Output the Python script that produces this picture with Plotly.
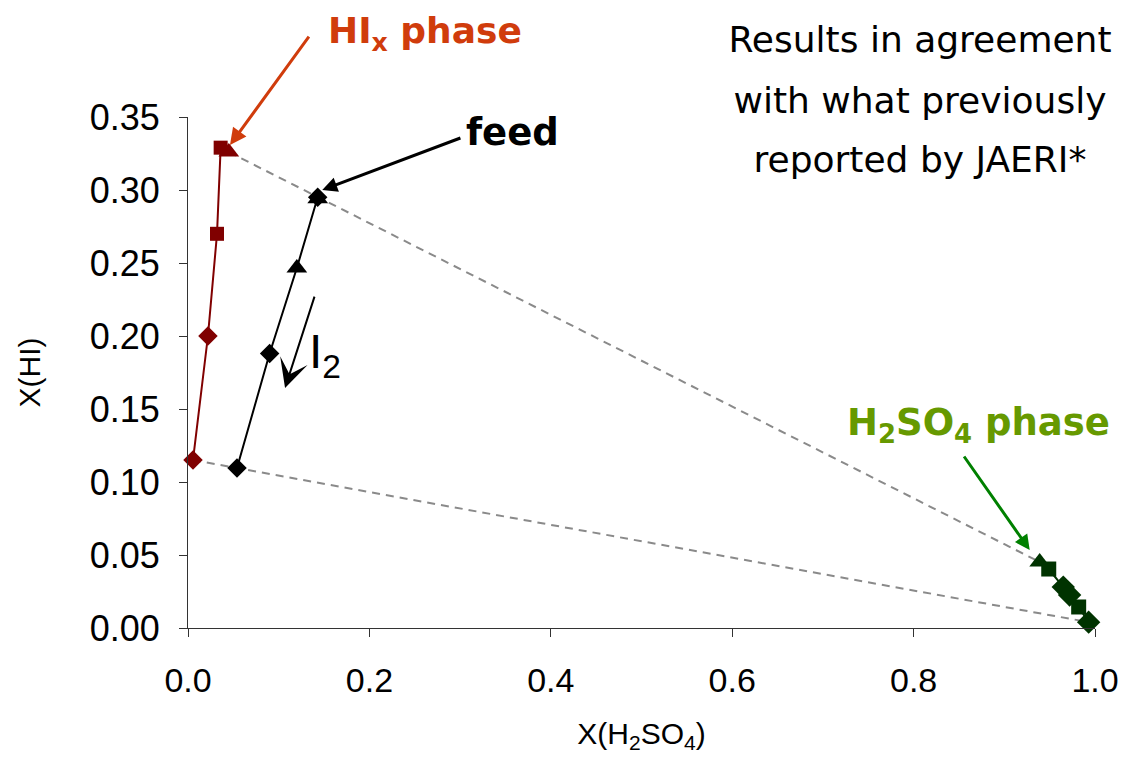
import plotly.graph_objects as go

# ---------------- data ----------------
HIX_DIAMOND_X = [0.0055, 0.022]
HIX_DIAMOND_Y = [0.115, 0.200]
HIX_SQUARE_X = [0.032, 0.036]
HIX_SQUARE_Y = [0.270, 0.329]
HIX_TRIANGLE_X = [0.045]
HIX_TRIANGLE_Y = [0.326]

FEED_DIAMOND_X = [0.054, 0.090, 0.143]
FEED_DIAMOND_Y = [0.1096, 0.188, 0.295]
FEED_TRIANGLE_X = [0.120, 0.143]
FEED_TRIANGLE_Y = [0.2466, 0.294]

H2SO4_DIAMOND_X = [0.965, 0.972, 0.993]
H2SO4_DIAMOND_Y = [0.028, 0.0226, 0.004]
H2SO4_SQUARE_X = [0.949, 0.982]
H2SO4_SQUARE_Y = [0.0404, 0.0144]
H2SO4_TRIANGLE_X = [0.939]
H2SO4_TRIANGLE_Y = [0.0452]

X_TICKS = [0.0, 0.2, 0.4, 0.6, 0.8, 1.0]
Y_TICKS = [0.00, 0.05, 0.10, 0.15, 0.20, 0.25, 0.30, 0.35]

NOTE_LINES = ["Results in agreement", "with what previously", "reported by JAERI*"]

RED = "#800000"
GREEN = "#003300"
ORANGE = "#D03C0C"
OLIVE = "#669900"
ARROW_GREEN = "#008000"
FONT = "Liberation Sans, Arial, sans-serif"
COMIC = "Comic Sans MS, DejaVu Sans, sans-serif"

fig = go.Figure()


def sorted_pts(xs, ys, key):
    pts = sorted(zip(xs, ys), key=key)
    return [p[0] for p in pts], [p[1] for p in pts]


DASH = dict(color="#8a8a8a", width=2, dash="8px,6px")
# tie lines (dashed)
fig.add_trace(go.Scatter(x=[HIX_TRIANGLE_X[0], H2SO4_TRIANGLE_X[0]],
                         y=[HIX_TRIANGLE_Y[0], H2SO4_TRIANGLE_Y[0]],
                         mode="lines", line=DASH, showlegend=False, hoverinfo="skip", cliponaxis=False))
fig.add_trace(go.Scatter(x=[HIX_DIAMOND_X[0], H2SO4_DIAMOND_X[-1]],
                         y=[HIX_DIAMOND_Y[0], H2SO4_DIAMOND_Y[-1]],
                         mode="lines", line=DASH, showlegend=False, hoverinfo="skip", cliponaxis=False))

# connecting lines for each phase
lx, ly = sorted_pts(HIX_DIAMOND_X + HIX_SQUARE_X, HIX_DIAMOND_Y + HIX_SQUARE_Y, key=lambda p: p[1])
fig.add_trace(go.Scatter(x=lx, y=ly, mode="lines", line=dict(color=RED, width=2),
                         showlegend=False, cliponaxis=False))
lx, ly = sorted_pts(FEED_DIAMOND_X + FEED_TRIANGLE_X, FEED_DIAMOND_Y + FEED_TRIANGLE_Y, key=lambda p: p[1])
fig.add_trace(go.Scatter(x=lx, y=ly, mode="lines", line=dict(color="black", width=2),
                         showlegend=False, cliponaxis=False))
lx, ly = sorted_pts(H2SO4_DIAMOND_X + H2SO4_SQUARE_X + H2SO4_TRIANGLE_X,
                    H2SO4_DIAMOND_Y + H2SO4_SQUARE_Y + H2SO4_TRIANGLE_Y, key=lambda p: p[0])
fig.add_trace(go.Scatter(x=lx, y=ly, mode="lines", line=dict(color=GREEN, width=2),
                         showlegend=False, cliponaxis=False))


def markers(xs, ys, color, symbol, size):
    fig.add_trace(go.Scatter(x=xs, y=ys, mode="markers",
                             marker=dict(color=color, symbol=symbol, size=size, line=dict(width=0)),
                             showlegend=False, cliponaxis=False))


markers(HIX_TRIANGLE_X, HIX_TRIANGLE_Y, RED, "triangle-up", 18)
markers(HIX_SQUARE_X, HIX_SQUARE_Y, RED, "square", 14)
markers(HIX_DIAMOND_X, HIX_DIAMOND_Y, RED, "diamond", 15)
markers(FEED_TRIANGLE_X, FEED_TRIANGLE_Y, "black", "triangle-up", 18)
markers(FEED_DIAMOND_X, FEED_DIAMOND_Y, "black", "diamond", 15)
markers(H2SO4_TRIANGLE_X, H2SO4_TRIANGLE_Y, GREEN, "triangle-up", 18)
markers(H2SO4_SQUARE_X, H2SO4_SQUARE_Y, GREEN, "square", 15)
markers(H2SO4_DIAMOND_X, H2SO4_DIAMOND_Y, GREEN, "diamond", 18)

# ---------------- annotations ----------------
def arrow(x, y, ax, ay, color, head, width=3, hsize=1.0):
    fig.add_annotation(x=x, y=y, ax=ax, ay=ay, xref="x", yref="y", axref="x", ayref="y",
                       text="", showarrow=True, arrowhead=head, arrowsize=hsize,
                       arrowwidth=width, arrowcolor=color)


arrow(0.0463, 0.3308, 0.1345, 0.406, ORANGE, 2, 3, 1.1)
arrow(0.148, 0.300, 0.302, 0.336, "black", 2, 3, 1.0)
arrow(0.107, 0.1644, 0.140, 0.228, "black", 3, 2, 2.4)
arrow(0.928, 0.0534, 0.8545, 0.1185, ARROW_GREEN, 2, 3, 1.0)

fig.add_annotation(x=0.261, y=1.164, xref="paper", yref="paper", showarrow=False,
                   xanchor="center", yanchor="middle",
                   text="<b>HI<sub>x</sub> phase</b>", font=dict(family=COMIC, size=36, color=ORANGE))
fig.add_annotation(x=0.358, y=0.3397, xref="x", yref="y", showarrow=False,
                   xanchor="center", yanchor="middle",
                   text="<b>feed</b>", font=dict(family=COMIC, size=37, color="black"))
fig.add_annotation(x=0.131, y=0.187, xref="x", yref="y", showarrow=False, xanchor="left",
                   yanchor="middle",
                   text="I<sub>2</sub>", font=dict(family=FONT, size=48, color="black"))
fig.add_annotation(x=0.872, y=0.139, xref="x", yref="y", showarrow=False,
                   xanchor="center", yanchor="middle",
                   text="<b>H<sub>2</sub>SO<sub>4</sub> phase</b>",
                   font=dict(family=COMIC, size=37, color=OLIVE))

# three centred lines, block right-aligned to stay inside the page
NOTE_BLOCK = "<br>".join(NOTE_LINES)
for i, (txt, yy) in enumerate(zip(NOTE_LINES, [1.151, 1.033, 0.916])):
    fig.add_annotation(x=1.024, y=yy, xref="paper", yref="paper", showarrow=False,
                       xanchor="right", yanchor="middle", align="center", width=390,
                       text=txt, font=dict(family=COMIC, size=36, color="black"))

# ---------------- layout ----------------
# page body has an 8px margin: figure sized so that the plot area lands at the reference pixels
fig.update_layout(
    width=1119, height=746,
    margin=dict(l=180, r=32, t=109, b=126, autoexpand=False),
    paper_bgcolor="white", plot_bgcolor="white",
    showlegend=False,
    xaxis=dict(range=[0, 1], tickvals=X_TICKS, ticktext=[f"{v:.1f}" for v in X_TICKS],
               showgrid=False, zeroline=False, showline=True, linecolor="#333333", linewidth=1,
               ticks="outside", ticklen=8, tickcolor="#333333", automargin=False,
               ticklabelstandoff=14,
               tickfont=dict(family=FONT, size=34, color="black"),
               title=dict(text="X(H<sub>2</sub>SO<sub>4</sub>)", standoff=30,
                          font=dict(family=FONT, size=30, color="black"))),
    yaxis=dict(range=[0, 0.35], tickvals=Y_TICKS, ticktext=[f"{v:.2f}" for v in Y_TICKS],
               showgrid=False, zeroline=False, showline=True, linecolor="#333333", linewidth=1,
               ticks="outside", ticklen=8, tickcolor="#333333", automargin=False,
               ticklabelstandoff=12,
               tickfont=dict(family=FONT, size=36, color="black"),
               title=dict(text="X(HI)", standoff=40,
                          font=dict(family=FONT, size=30, color="black"))),
)

fig.write_html("out.html")
